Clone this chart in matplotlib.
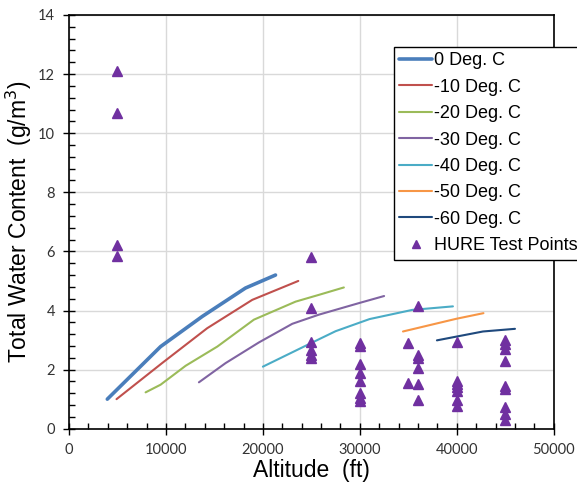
import matplotlib
matplotlib.use("Agg")
import matplotlib.pyplot as plt
from matplotlib.ticker import MultipleLocator

# Temperature curves: altitude (ft) vs total water content (g/m^3)
alt_0 = [3950, 9450, 13750, 18200, 21300]
twc_0 = [1.0, 2.78, 3.80, 4.76, 5.2]

alt_10 = [4900, 9600, 14250, 18900, 23650]
twc_10 = [1.0, 2.22, 3.4, 4.36, 5.0]

alt_20 = [7900, 9450, 12030, 15300, 19070, 23370, 25780, 28350]
twc_20 = [1.23, 1.49, 2.13, 2.78, 3.69, 4.30, 4.53, 4.78]

alt_30 = [13400, 16150, 19590, 23030, 25780, 29900, 32500]
twc_30 = [1.57, 2.22, 2.92, 3.55, 3.86, 4.25, 4.49]

alt_40 = [20000, 25800, 27500, 31000, 35400, 39600]
twc_40 = [2.1, 3.03, 3.3, 3.71, 4.02, 4.14]

alt_50 = [34450, 39950, 42750]
twc_50 = [3.29, 3.72, 3.91]

alt_60 = [37950, 42700, 46000]
twc_60 = [2.99, 3.29, 3.38]

# HURE test points
hure_alt = ([5000] * 4 + [25000] * 6 + [30000] * 8 + [35000] * 2
            + [36000] * 6 + [40000] * 7 + [45000] * 9)
hure_twc = ([12.1, 10.7, 6.2, 5.85]
            + [5.8, 4.1, 2.95, 2.65, 2.5, 2.4]
            + [2.9, 2.8, 2.2, 1.9, 1.6, 1.2, 1.05, 0.93]
            + [2.9, 1.55]
            + [4.15, 2.5, 2.4, 2.05, 1.5, 0.97]
            + [2.95, 1.6, 1.5, 1.4, 1.27, 0.98, 0.78]
            + [3.0, 2.85, 2.7, 2.3, 1.45, 1.35, 0.75, 0.5, 0.3])

curves = [
    (alt_0, twc_0, "0 Deg. C", "#4A7EBB", 2.6),
    (alt_10, twc_10, "-10 Deg. C", "#C0504D", 1.5),
    (alt_20, twc_20, "-20 Deg. C", "#9BBB59", 1.5),
    (alt_30, twc_30, "-30 Deg. C", "#8064A2", 1.5),
    (alt_40, twc_40, "-40 Deg. C", "#4BACC6", 1.5),
    (alt_50, twc_50, "-50 Deg. C", "#F79646", 1.5),
    (alt_60, twc_60, "-60 Deg. C", "#1F497D", 1.5),
]

fig = plt.figure(figsize=(5.77, 4.93), dpi=100)
ax = fig.add_axes([0.1196, 0.1304, 0.8401, 0.8392])

for x, y, label, color, lw in curves:
    ax.plot(x, y, color=color, lw=lw, label=label, solid_capstyle="round")

ax.plot(hure_alt, hure_twc, linestyle="none", marker="^", markersize=7.5,
        color="#7030A0", label="HURE Test Points")

ax.set_xlim(0, 50000)
ax.set_ylim(0, 14)
ax.xaxis.set_major_locator(MultipleLocator(10000))
ax.xaxis.set_minor_locator(MultipleLocator(2000))
ax.yaxis.set_major_locator(MultipleLocator(2))
ax.yaxis.set_minor_locator(MultipleLocator(0.4))

ax.grid(True, which="major", color="#D9D9D9", lw=1)
ax.set_axisbelow(True)
for s in ax.spines.values():
    s.set_color("black")
    s.set_linewidth(1.2)

ax.tick_params(which="major", direction="inout", length=8, width=1,
               labelsize=10.5, pad=6, colors="black")
ax.tick_params(which="minor", direction="in", length=4, width=1)
for lab in ax.get_xticklabels() + ax.get_yticklabels():
    lab.set_fontfamily("Lato")
    lab.set_color("#333333")

ax.set_xlabel("Altitude  (ft)", fontsize=16.5, family="Liberation Sans", labelpad=2)
ax.set_ylabel("Total Water Content  (g/m$^3$)", fontsize=16.5,
              family="Liberation Sans")
ax.yaxis.set_label_coords(-0.072, 0.5)

leg = ax.legend(loc="upper left", bbox_to_anchor=(394 / 577, 1 - 47 / 493),
                bbox_transform=fig.transFigure,
                prop={"family": "Liberation Sans", "size": 13},
                frameon=True, fancybox=False, edgecolor="black",
                framealpha=1, handlelength=1.8, handletextpad=0.1,
                labelspacing=0.52, borderpad=0.3, borderaxespad=0,
                markerscale=0.85)
leg.get_frame().set_linewidth(1)

fig.savefig("out.png", dpi=100)
